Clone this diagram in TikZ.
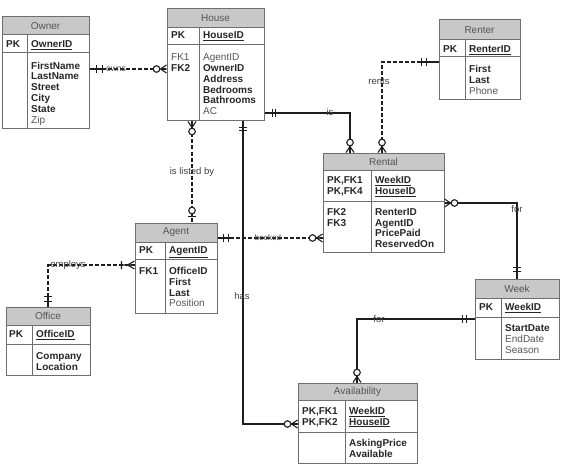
\documentclass[tikz,border=0pt]{standalone}
\usepackage{fontspec}
\setmainfont{Liberation Sans}
\usetikzlibrary{fit,calc}
\definecolor{hdrfill}{HTML}{C8C8C8}
\definecolor{frame}{HTML}{6E6E6E}
\definecolor{txtb}{HTML}{262626}
\definecolor{txtr}{HTML}{555555}
\definecolor{conn}{HTML}{1E1E1E}
\definecolor{lblc}{HTML}{404040}
\newcommand\rg[1]{{\mdseries\color{txtr}#1}}
\newcommand\uln[1]{\underline{#1}}
% name x1 y1 x2 yh ypk y2 xdiv title
\newcommand\ertable[9]{%
  \fill[hdrfill] (#2,#3) rectangle (#4,#5);
  \node[tblbox, fit={(#2,#3) (#4,#7)}] (#1) {};
  \draw[tline] (#2,#5) -- (#4,#5) (#2,#6) -- (#4,#6) (#8,#5) -- (#8,#7);
  \node[ttl] (#1-title) at ({(#2+#4)/2},{(#3+#5)/2}) {#9};
}
\newcommand\lines[4]{%
  \foreach \itm [count=\i from 0] in {#4}
    \node[txt, name=#1\i] at (#2,{#3+\i*10.8}) {\itm};}
\newcommand\zmany[2]{\begin{scope}[shift={(#1)},rotate=#2]
  \draw[mk] (0,4) -- (6,0) -- (0,-4) (0,0) -- (6,0);
  \draw[mk,fill=white] (10,0) circle[radius=3.3pt];
\end{scope}}
\newcommand\zone[2]{\begin{scope}[shift={(#1)},rotate=#2]
  \draw[mk] (6,4) -- (6,-4);
  \draw[mk,fill=white] (12,0) circle[radius=3.3pt];
\end{scope}}
\newcommand\omany[2]{\begin{scope}[shift={(#1)},rotate=#2]
  \draw[mk] (0,4) -- (7,0) -- (0,-4) (0,0) -- (15,0) (13,4) -- (13,-4);
\end{scope}}
\newcommand\mone[4]{\begin{scope}[shift={(#1)},rotate=#2]
  \draw[mk] (0,0) -- ({#4+2},0) (#3,4) -- (#3,-4) (#4,4) -- (#4,-4);
\end{scope}}
\begin{document}
\begin{tikzpicture}[x=1pt,y=-1pt,
  tblbox/.style={draw=frame, line width=1pt, inner sep=0pt},
  tline/.style={draw=frame, line width=1pt},
  ttl/.style={font=\fontsize{10}{12}\selectfont, text=txtr, inner sep=0pt},
  txt/.style={anchor=base west, inner sep=0pt, font=\fontsize{10}{12}\selectfont\bfseries, text=txtb},
  lbl/.style={font=\fontsize{9.5}{11}\selectfont, text=lblc, inner sep=0pt},
  sln/.style={draw=conn, line width=1.1pt},
  dln/.style={draw=conn, line width=1.1pt, dash pattern=on 4pt off 2pt},
  mk/.style={draw=conn, line width=1.1pt}]
\fill[white] (0,0) rectangle (569,465);
\useasboundingbox (0,0) rectangle (569,465);
% tables
\ertable{owner}{2}{17}{89}{35}{53}{129}{27}{Owner}
\ertable{house}{167}{9}{264}{28}{45}{121}{199}{House}
\ertable{renter}{439}{20}{520}{40}{57}{100}{465}{Renter}
\ertable{rental}{323}{153}{444}{170}{201}{252}{371}{Rental}
\ertable{agent}{135}{223}{217}{242}{259}{313}{165}{Agent}
\ertable{office}{6}{307}{90}{325}{344}{375}{32}{Office}
\ertable{week}{475}{279}{559}{298}{317}{359}{501}{Week}
\ertable{avail}{298}{383}{417}{400}{432}{463}{345}{Availability}
% contents
\lines{owk}{6}{47.5}{PK}
\lines{owp}{31}{47.5}{\uln{OwnerID}}
\lines{owb}{31}{69.2}{FirstName,LastName,Street,City,State,\rg{Zip}}
\lines{hok}{171}{38.5}{PK}
\lines{hop}{203}{38.5}{\uln{HouseID}}
\lines{hof}{171}{60.8}{\rg{FK1},FK2}
\lines{hob}{203}{60.8}{\rg{AgentID},OwnerID,Address,Bedrooms,Bathrooms,\rg{AC}}
\lines{rek}{443}{52.5}{PK}
\lines{rep}{469}{52.5}{\uln{RenterID}}
\lines{reb}{469}{72.5}{First,Last,\rg{Phone}}
\lines{rtk}{327}{183.5}{{PK,FK1},{PK,FK4}}
\lines{rtp}{375}{183.5}{\uln{WeekID},\uln{HouseID}}
\lines{rtf}{327}{215.2}{FK2,FK3}
\lines{rtb}{375}{215.2}{RenterID,AgentID,PricePaid,ReservedOn}
\lines{agk}{139}{253.5}{PK}
\lines{agp}{169}{253.5}{\uln{AgentID}}
\lines{agf}{139}{274.5}{FK1}
\lines{agb}{169}{274.5}{OfficeID,First,Last,\rg{Position}}
\lines{ofk}{9}{337.8}{PK}
\lines{ofp}{36}{337.8}{\uln{OfficeID}}
\lines{ofb}{36}{359.5}{Company,Location}
\lines{wkk}{479}{310.8}{PK}
\lines{wkp}{505}{310.8}{\uln{WeekID}}
\lines{wkb}{505}{331.8}{StartDate,\rg{EndDate},\rg{Season}}
\lines{avk}{302}{414.2}{{PK,FK1},{PK,FK2}}
\lines{avp}{349}{414.2}{\uln{WeekID},\uln{HouseID}}
\lines{avb}{349}{446.2}{AskingPrice,Available}
% owns
\coordinate (ow1) at (owner.east |- 0,69);
\coordinate (ow2) at (house.west |- 0,69);
\draw[dln] (ow1) -- (ow2);
\mone{ow1}{0}{7}{13}
\zmany{ow2}{180}
\node[lbl, font=\fontsize{8.5}{10}\selectfont] (lowns) at (116,69) {owns};
% is listed by
\coordinate (il1) at (house.south -| 192,0);
\coordinate (il2) at (agent.north -| 192,0);
\draw[dln] (il1) -- (il2);
\zmany{il1}{270}
\zone{il2}{90}
\node[lbl] (llist) at (192,172) {is listed by};
% has
\coordinate (h1) at (house.south -| 243,0);
\coordinate (h2) at (avail.west |- 0,424);
\draw[sln] (h1) |- (h2);
\mone{h1}{270}{6}{9}
\zmany{h2}{180}
\node[lbl] (lhas) at (242,296) {has};
% is
\coordinate (i1) at (house.east |- 0,113);
\coordinate (i2) at (rental.north -| 350,0);
\draw[sln] (i1) -| (i2);
\mone{i1}{0}{8}{11}
\zmany{i2}{90}
\node[lbl] (lis) at (330,112) {is};
% rents
\coordinate (r1) at (renter.west |- 0,62);
\coordinate (r2) at (rental.north -| 382,0);
\draw[dln] (r1) -| (r2);
\mone{r1}{180}{12}{17}
\zmany{r2}{90}
\node[lbl] (lrents) at (379,81) {rents};
% booked
\coordinate (b1) at (agent.east |- 0,238);
\coordinate (b2) at (rental.west |- 0,238);
\draw[dln] (b1) -- (b2);
\mone{b1}{0}{6}{11}
\zmany{b2}{180}
\node[lbl, font=\fontsize{8}{10}\selectfont] (lbooked) at (268,238) {booked};
% employs
\coordinate (e1) at (agent.west |- 0,265);
\coordinate (e2) at (office.north -| 48,0);
\draw[dln] (e1) -| (e2);
\omany{e1}{180}
\mone{e2}{90}{5}{10}
\node[lbl] (lemploys) at (68,265) {employs};
% for (rental-week)
\coordinate (f1) at (rental.east |- 0,203);
\coordinate (f2) at (week.north -| 517,0);
\draw[sln] (f1) -| (f2);
\zmany{f1}{0}
\mone{f2}{90}{7}{11}
\node[lbl] (lfor1) at (517,209) {for};
% for (week-availability)
\coordinate (g1) at (week.west |- 0,319);
\coordinate (g2) at (avail.north -| 357,0);
\draw[sln] (g1) -| (g2);
\mone{g1}{180}{8}{12}
\zmany{g2}{90}
\node[lbl] (lfor2) at (379,319) {for};
\end{tikzpicture}
\end{document}
